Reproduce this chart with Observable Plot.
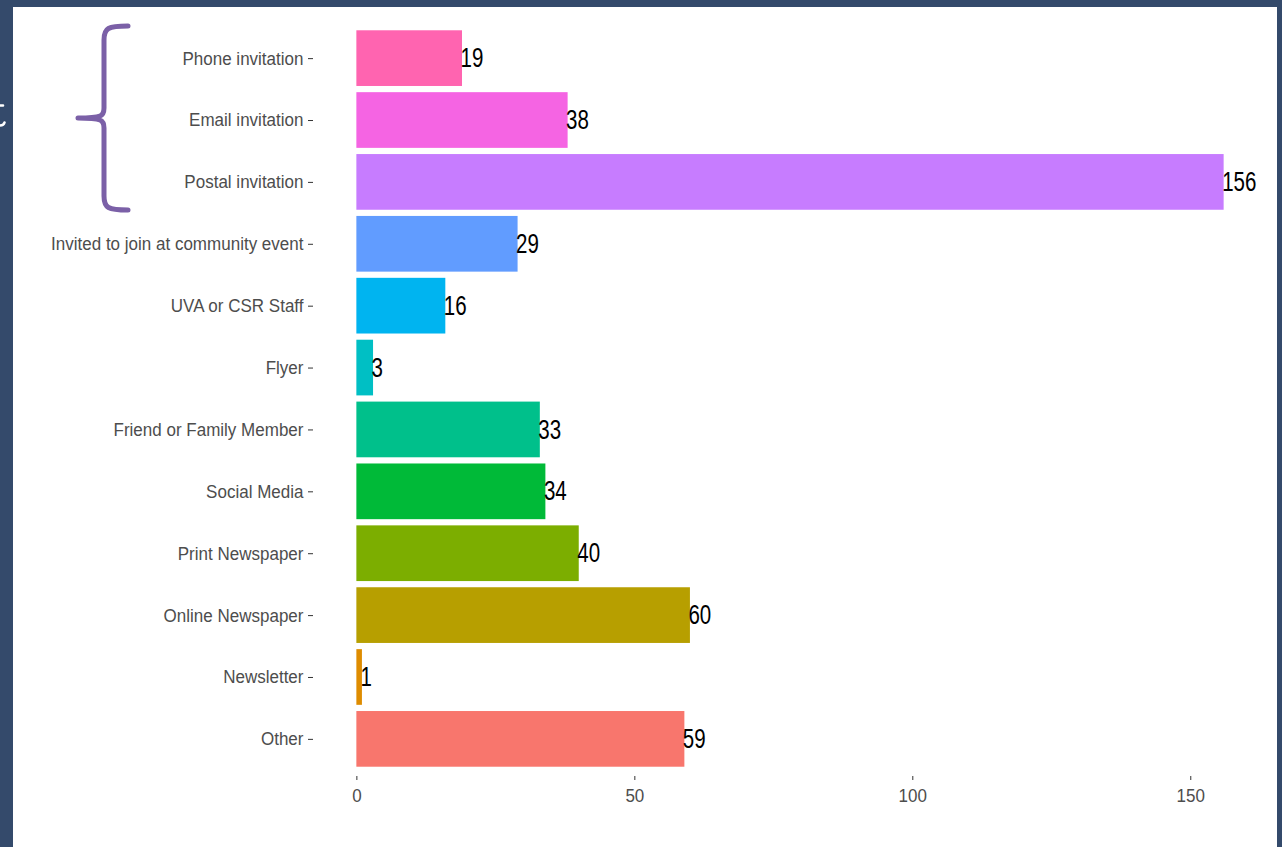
<!DOCTYPE html>
<html>
<head>
<meta charset="utf-8">
<script src="https://cdn.jsdelivr.net/npm/d3@7"></script>
<script src="https://cdn.jsdelivr.net/npm/@observablehq/plot@0.6"></script>
<style>
  html, body { margin: 0; padding: 0; width: 1282px; height: 847px; overflow: hidden; background: #344a6b; }
  #panel { position: absolute; left: 13px; top: 7px; width: 1264px; height: 840px; background: #ffffff; }
  #chart { position: absolute; left: 0; top: 0; }
  #deco { position: absolute; left: 0; top: 0; }
</style>
</head>
<body>
<div id="panel"></div>
<div id="chart"></div>
<svg id="deco" width="1282" height="847">
  <path d="M0 105.5 L3 105.5 M0 125.5 C2.5 125.5 4 124.5 4.5 122.5" fill="none" stroke="#ffffff" stroke-width="2.6" stroke-linecap="round"/>
  <path d="M128 26 C108 26 104 28 104 40 L104 108 C104 116 102 118 78 118 C102 118 104 120 104 128 L104 196 C104 208 108 210 128 210"
        fill="none" stroke="#7b60a7" stroke-width="5" stroke-linecap="round" stroke-linejoin="round"/>
</svg>
<script>
const categories = ["Phone invitation", "Email invitation", "Postal invitation", "Invited to join at community event", "UVA or CSR Staff", "Flyer", "Friend or Family Member", "Social Media", "Print Newspaper", "Online Newspaper", "Newsletter", "Other"];
const values = [19, 38, 156, 29, 16, 3, 33, 34, 40, 60, 1, 59];
const colors = ["#FF64B0", "#F564E3", "#C77CFF", "#619CFF", "#00B4F0", "#00BFC4", "#00C08B", "#00BA38", "#7CAE00", "#B79F00", "#DE8C00", "#F8766D"];
const xTicks = [0, 50, 100, 150];

const data = categories.map((c, i) => ({cat: c, value: values[i]}));

const chart = Plot.plot({
  width: 1282,
  height: 847,
  marginLeft: 313,
  marginRight: 15,
  marginTop: 21,
  marginBottom: 71,
  style: {background: "transparent", fontFamily: "'Liberation Sans', Arial, sans-serif", fontSize: "17px"},
  x: {domain: [-7.8, 163.8]},
  y: {domain: categories, paddingInner: 0.1, paddingOuter: 0.15, round: false},
  color: {domain: categories, range: colors},
  marks: [
    Plot.barX(data, {x: "value", y: "cat", fill: "cat"}),
    Plot.text(data, {x: "value", y: "cat", text: d => String(d.value), textAnchor: "start", dx: -2, fill: "#000", fontSize: 27, fontFamily: "'Liberation Sans', Arial, sans-serif", className: "vlabels"}),
    Plot.axisX({ticks: xTicks, tickSize: 4, tickPadding: 8, stroke: "#333333", fill: "#4d4d4d", fontSize: 18.5, label: null, className: "xlabels"}),
    Plot.axisY({tickSize: 5, tickPadding: 5, stroke: "#333333", fill: "#4d4d4d", fontSize: 18.5, label: null, className: "ylabels"})
  ]
});
document.getElementById("chart").appendChild(chart);
// condense texts horizontally around their anchors (as in the reference)
function condense(sel, k) {
  chart.querySelectorAll(sel).forEach(t => {
    const tr = t.getAttribute("transform") || "";
    t.setAttribute("transform", tr + ` scale(${k},1)`);
  });
}
condense(".vlabels text", 0.76);
condense(".ylabels text", 0.92);
condense(".xlabels text", 0.92);
</script>
</body>
</html>
